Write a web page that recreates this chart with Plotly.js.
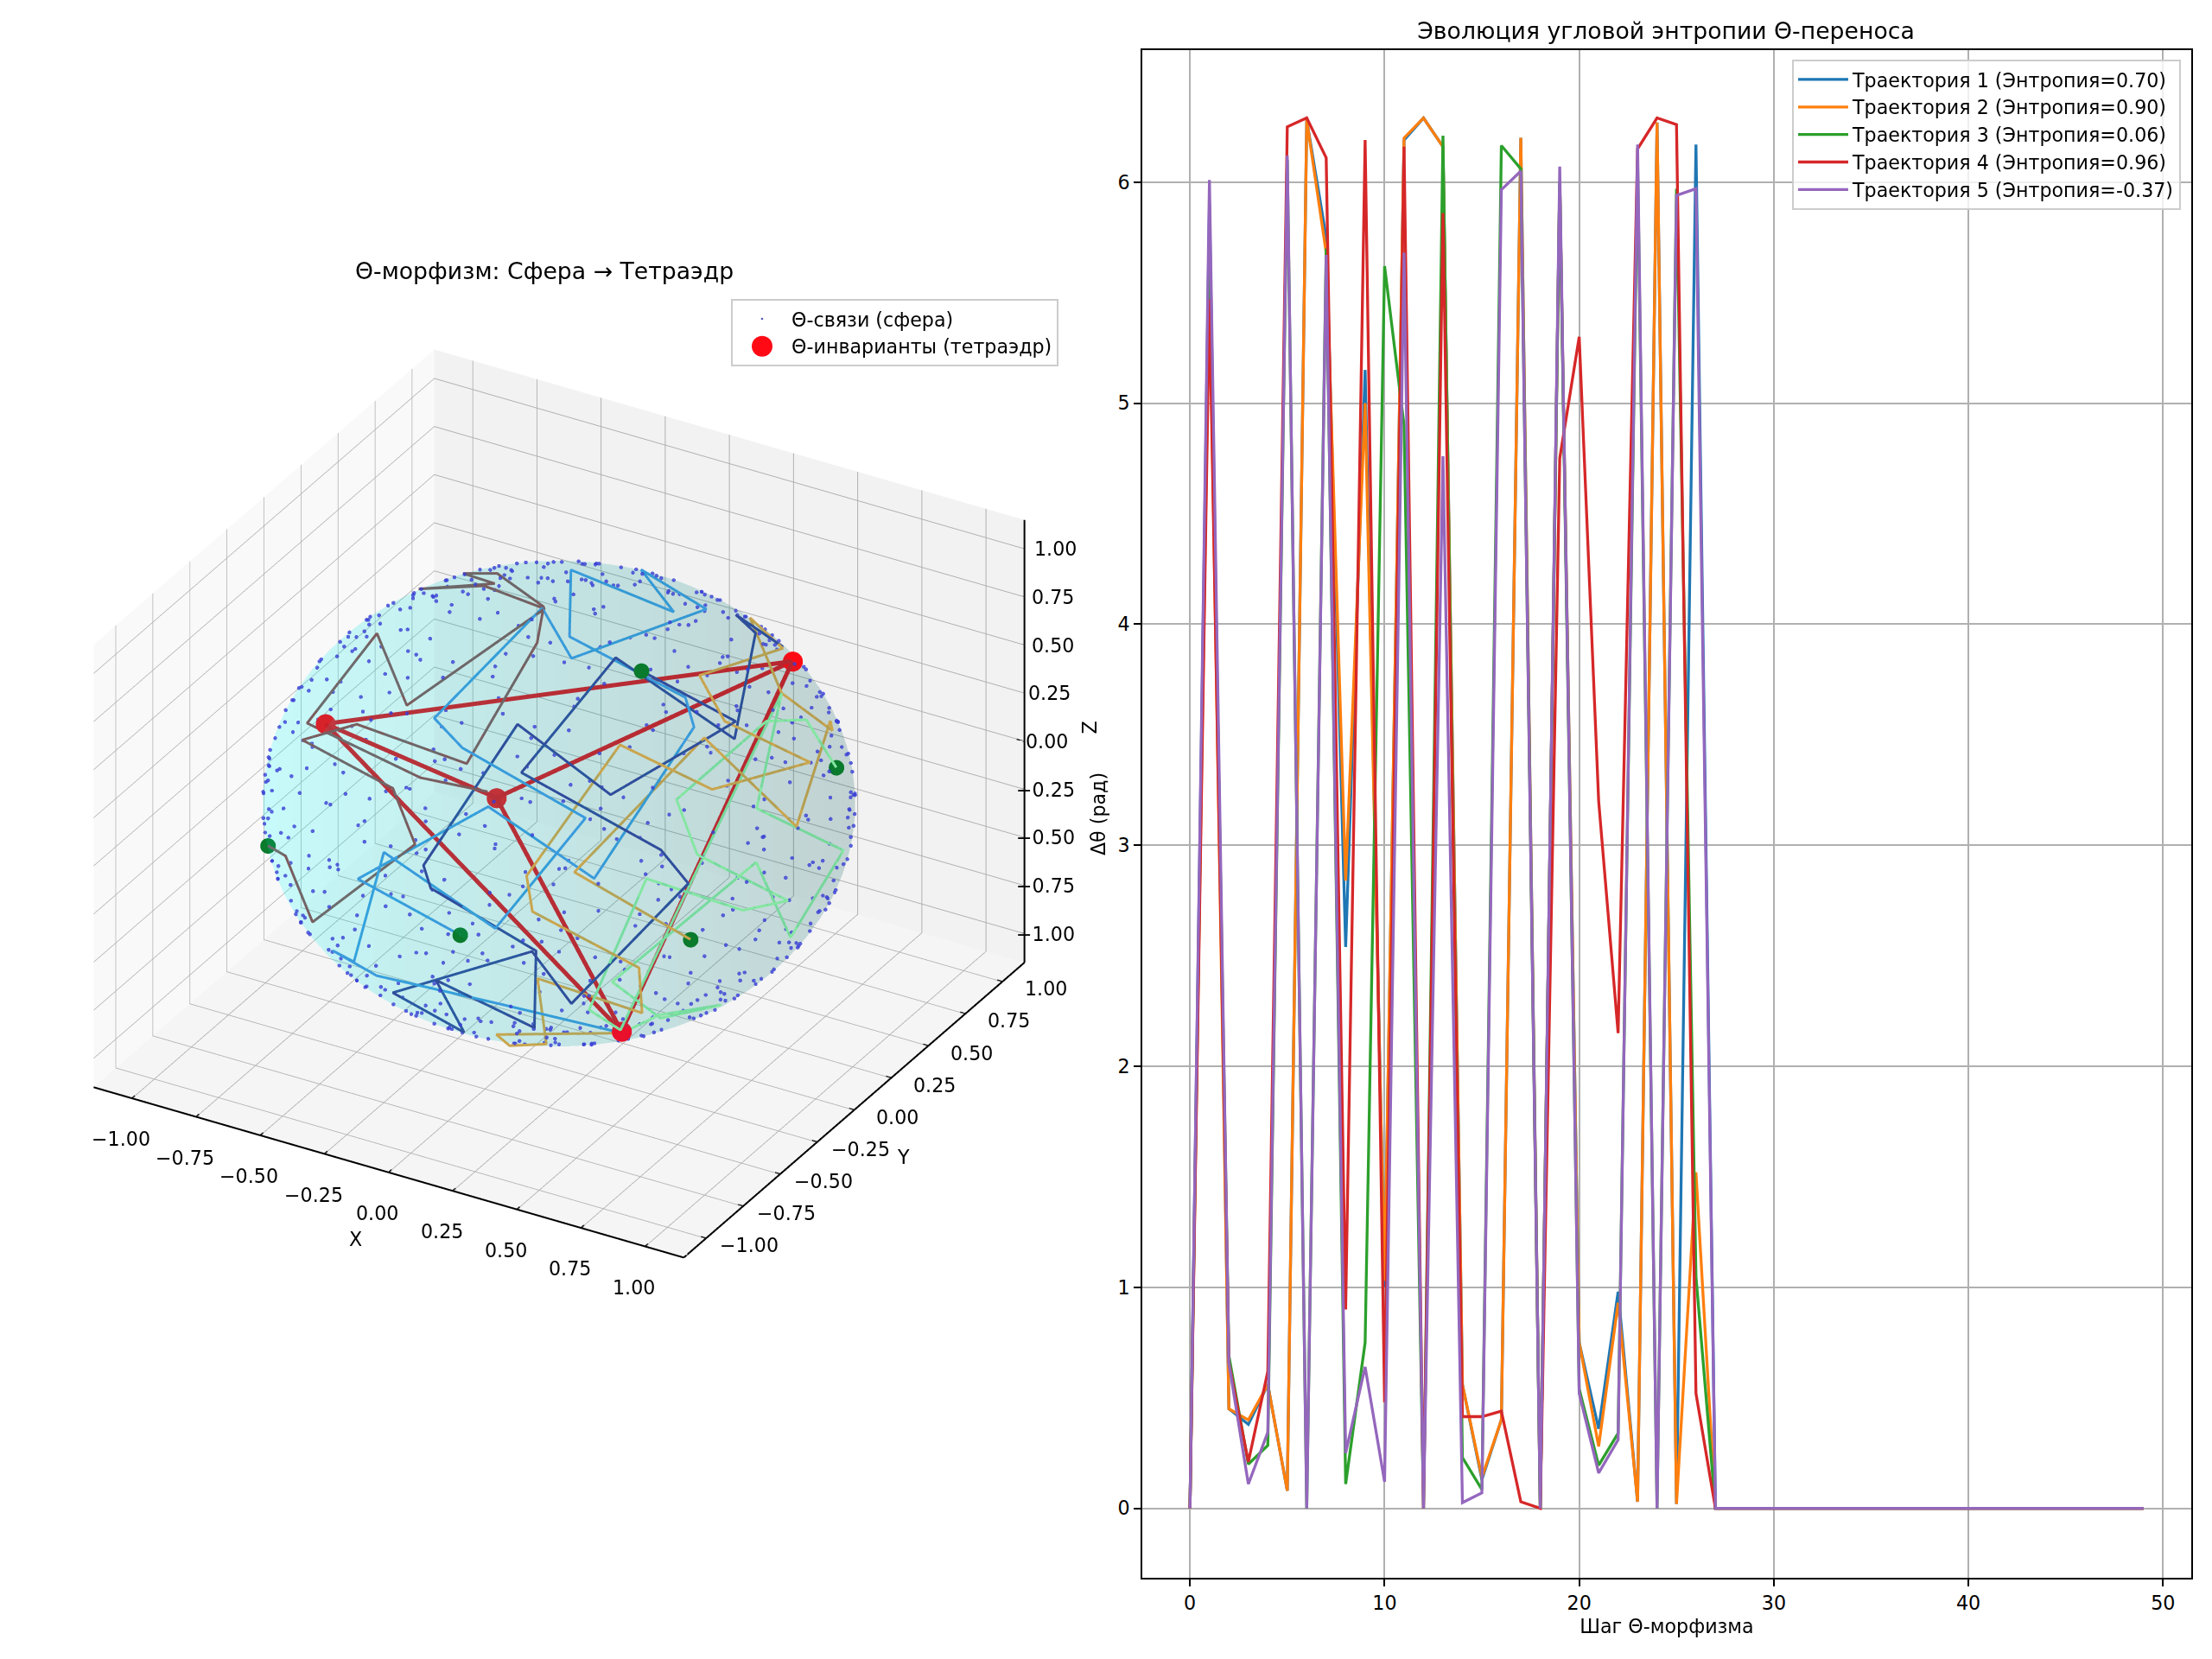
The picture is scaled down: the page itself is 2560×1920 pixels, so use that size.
<!DOCTYPE html>
<html>
<head>
<meta charset="utf-8">
<script src="https://cdn.plot.ly/plotly-3.0.1.min.js"></script>
<style>html,body{margin:0;padding:0;background:#fff}#chart{width:2560px;height:1920px}</style>
</head>
<body>
<div id="chart"></div>
<script>
// ---- right panel: angular entropy per step ----
const steps = [];
for (let i = 0; i < 50; i++) steps.push(i);
const zeros22 = [0,0,0,0,0,0,0,0,0,0,0,0,0,0,0,0,0,0,0,0,0,0];

const names = ['Траектория 1 (Энтропия=0.70)', 'Траектория 2 (Энтропия=0.90)', 'Траектория 3 (Энтропия=0.06)', 'Траектория 4 (Энтропия=0.96)', 'Траектория 5 (Энтропия=-0.37)'];
const colors = ['#1f77b4', '#ff7f0e', '#2ca02c', '#d62728', '#9467bd'];

const entropy1 = [0,5.9,0.45,0.38,0.56,0.08,6.28,5.75,2.54,5.15,1.0,6.19,6.29,6.16,0.56,0.13,0.40,6.2,0,6.0,0.75,0.36,0.98,0.03,6.27,0.02,6.17,0.0].concat(zeros22);
const entropy2 = [0,5.6,0.45,0.40,0.56,0.08,6.28,5.68,2.84,5.0,1.03,6.2,6.29,6.16,0.56,0.14,0.40,6.2,0,6.0,0.75,0.28,0.93,0.03,6.27,0.02,1.52,0.0].concat(zeros22);
const entropy3 = [0,5.7,0.69,0.20,0.285,6.1,0,5.7,0.11,0.75,5.62,4.9,0,6.21,0.23,0.085,6.165,6.06,0,6.0,0.54,0.195,0.34,6.1,0,5.97,1.05,0.0].concat(zeros22);
const entropy4 = [0,5.47,0.66,0.21,0.62,6.25,6.29,6.11,0.90,6.19,0.48,6.16,0,5.86,0.415,0.415,0.44,0.03,0,4.75,5.30,3.2,2.15,6.15,6.29,6.26,0.52,0.0].concat(zeros22);
const entropy5 = [0,6.01,0.656,0.11,0.344,6.12,0,5.67,0.25,0.64,0.12,5.68,0,4.76,0.026,0.07,5.965,6.05,0,6.07,0.52,0.16,0.31,6.17,0,5.94,5.97,0.0].concat(zeros22);
const entropies = [entropy1, entropy2, entropy3, entropy4, entropy5];

// ---- left panel: tetrahedron vertices and start points ----
const vertX = [0.577,-0.577,-0.577,0.577];
const vertY = [0.577,-0.577,0.577,-0.577];
const vertZ = [0.577,0.577,-0.577,-0.577];
const vertColors = ['#ff0a14','#d8222a','#d8222a','#e8102a'];
const edgeOrder = [0,1,2,0,3,1,3,2];

// ---- trajectories on the sphere ----
const brownX = [-0.80,-0.61,-0.47,-0.03,-0.18,-0.66,-0.43,0.05,0.03,-0.06,-0.38,-0.57,-0.32,-0.68,-0.35,-0.05,-0.27,-0.60,-0.67,-0.09,0.16];
const brownY = [-0.58,-0.79,-0.85,-0.92,-0.81,-0.59,-0.62,-0.71,-0.20,-0.00,0.24,0.34,0.12,0.23,0.10,-0.01,-0.56,-0.19,-0.54,-0.78,-0.76];
const brownZ = [-0.14,0.02,-0.23,0.39,0.55,0.47,0.66,0.70,0.98,1.00,0.89,0.75,0.94,0.70,0.93,1.00,0.78,0.78,0.52,0.62,0.63];
const blueX = [0.18,-0.23,0.18,0.57,0.63,0.55,0.11,-0.15,0.28,-0.05,0.32,0.17,-0.06,-0.14,0.01,0.49,0.30,-0.14,-0.28,-0.38,-0.18,0.29,0.57];
const blueY = [-0.98,-0.96,-0.79,-0.75,-0.18,-0.10,-0.12,0.34,0.29,0.64,0.44,-0.21,-0.01,-0.60,-0.67,-0.67,-0.95,-0.94,-0.90,-0.87,-0.92,-0.90,-0.56];
const blueZ = [0.04,0.16,0.58,0.33,0.76,0.83,0.99,0.93,0.91,0.77,0.84,0.96,1.00,0.79,0.74,0.56,0.10,0.32,-0.33,-0.33,-0.35,-0.33,-0.60];
const navyX = [0.39,0.70,0.67,0.53,0.15,0.02,0.06,0.43,0.36,0.08,0.04,-0.14,0.42,0.51,0.81,0.72,0.24,0.29,0.73,0.46,0.36,0.51];
const navyY = [-0.12,-0.02,-0.19,-0.57,-0.54,-0.95,-0.97,-0.90,-0.79,-0.97,-0.71,-0.88,-0.91,-0.80,-0.53,-0.56,-0.67,-0.12,-0.08,0.53,0.57,0.63];
const navyZ = [0.92,0.71,0.71,0.63,0.83,0.32,0.23,0.00,-0.50,-0.24,-0.70,-0.45,-0.00,-0.31,0.25,0.41,0.70,0.95,0.67,0.71,0.74,0.59];
const goldX = [0.83,0.51,0.67,0.96,0.78,0.80,0.70,0.34,0.52,0.53,0.68,0.88,0.77,0.48,0.37,0.41,0.71,0.67,0.43,0.32,0.16,0.20,0.57];
const goldY = [-0.55,-0.78,-0.18,-0.06,0.48,0.46,0.29,0.70,0.61,0.03,-0.06,0.17,-0.30,-0.42,-0.86,-0.89,-0.69,-0.60,-0.89,-0.64,-0.61,-0.77,-0.56];
const goldZ = [-0.02,0.36,0.72,0.29,0.41,0.38,0.65,0.63,0.60,0.85,0.73,0.44,0.57,0.77,0.34,0.19,-0.12,-0.43,-0.15,-0.70,-0.79,-0.61,-0.60];
const greenX = [0.89,0.79,0.75,0.70,0.81,0.99,0.93,0.71,0.55,0.58,0.70,0.88,0.97,0.96,0.93,0.64,0.69,0.77,0.70,0.57];
const greenY = [0.33,0.30,0.10,-0.42,-0.47,-0.17,-0.37,-0.64,-0.75,-0.59,0.29,-0.19,0.24,-0.10,-0.28,-0.75,-0.51,-0.24,-0.54,-0.56];
const greenZ = [0.31,0.54,0.65,0.57,0.36,-0.01,0.05,0.31,-0.36,-0.56,0.65,0.44,-0.03,-0.26,0.24,-0.18,-0.51,-0.59,-0.47,-0.60];
const trajColors = ['#7a5c5e','#3a9bdc','#2f4d9c','#c9a54e','#84e6a2'];

// ---- Θ-links: points on the sphere, degrees ----
const dotLon = [12,47,95,130,168,205,238,262,291,318,345,27,
33,71,109,152,190,221,256,283,305,331,352,8,
4,21,33,52,66,83,97,111,128,142,159,171,188,203,217,234,246,263,279,291,308,322,339,353,
9,24,41,55,72,86,103,119,133,148,162,179,193,208,224,239,251,268,284,298,313,329,343,357,
2,13,22,31,43,52,61,74,82,93,101,114,123,132,144,151,163,172,183,194,201,213,222,233,242,254,261,273,284,291,303,312,324,331,344,352,
6,17,25,38,47,56,68,77,88,97,108,118,127,138,147,158,167,178,187,198,207,218,228,237,249,257,268,278,287,297,307,318,327,338,347,357,
3,11,20,27,36,44,52,59,69,76,85,92,101,108,117,124,133,140,149,156,166,173,181,189,198,205,214,221,230,238,246,253,262,269,278,286,294,302,310,318,326,335,343,351,
7,15,23,32,40,49,56,65,72,81,89,97,105,113,121,129,137,145,153,161,170,178,186,193,202,210,218,226,234,242,250,258,266,274,282,290,298,306,314,322,331,339,347,356,
1,9,16,24,31,38,46,53,61,68,76,83,91,98,106,113,121,128,136,143,151,158,166,173,181,188,196,203,211,218,226,233,241,248,256,263,271,278,286,293,301,308,316,323,331,338,346,353,
5,12,20,27,35,42,50,57,65,72,80,87,95,102,110,117,125,132,140,147,155,162,170,177,185,192,200,207,215,222,230,237,245,252,260,267,275,282,290,297,305,312,320,327,335,342,350,357,
3,10,18,24,32,39,47,54,61,68,75,83,90,97,104,112,119,126,133,141,148,155,162,170,177,184,191,199,206,213,220,228,235,242,249,257,264,271,278,286,293,300,307,315,322,329,336,344,351,358,
17,143,268,59,201,326,88,232,5,171,294,46,119,253,338,76,186,311,28,156,277,64,219,349,102,243,135,9,296,181,
38,261,112,347,194,71,305,149,23,226,92,279,164,52,333,127,248,16,203,80,316,177,41,290,138,357,212,99,265,61,
154,299,83,222,13,340,118,247,67,189,322,35,274,146,8,208,95,357,131,283,55,171,240,20,326,106,199,74,312,160,
228,44,181,306,125,262,89,355,29,197,141,318,68,251,12,166,285,104,234,50,340,152,276,87,211,33,129,300,175,62,
122,269,7,196,337,78,158,291,43,215,101,352,238,19,134,282,57,176,320,93,255,30,147,204,72,311,110,246,2,168,
// denser ring along the visible rim
300,305,312,318,324,330,336,342,348,354,0,5,10,14,18,22,26,30,34,38,42,46,50,54,58,62,68,74,80,86,92,98,104,110,116,122,128,134,140,146,
152,158,164,170,176,180,184,188,192,196,200,204,208,212,216,220,224,228,232,236,240,246,252,258,264,270,276,282,288,294,
303,309,315,321,327,333,339,345,351,357,3,8,12,16,20,24,28,32,36,40,44,48,52,56,60,65,71,77,83,89,95,101,107,113,119,125,131,137,143,149,
155,161,167,173,178,182,186,190,194,198,202,206,210,214,218,222,226,230,234,238,243,249,255,261,267,273,279,285,291,297];
const dotLat = [72,81,75,86,70,78,84,73,79,71,76,83,
-74,-82,-71,-77,-86,-70,-79,-73,-84,-72,-76,-80,
61,56,66,58,63,55,68,60,57,65,62,54,67,59,64,56,61,69,58,53,63,66,55,60,
-58,-64,-55,-67,-61,-53,-63,-69,-57,-60,-66,-54,-62,-68,-56,-59,-65,-52,-61,-67,-58,-55,-63,-60,
47,41,50,38,45,52,43,48,37,46,40,51,44,39,49,42,47,36,53,41,45,50,38,44,48,40,51,43,37,46,42,49,39,52,44,47,
-44,-50,-38,-47,-41,-52,-36,-45,-49,-40,-43,-53,-37,-46,-42,-51,-39,-48,-44,-36,-50,-41,-47,-38,-52,-43,-45,-40,-49,-37,-46,-42,-51,-39,-44,-48,
31,26,34,23,29,35,27,32,24,30,36,25,33,28,22,31,35,26,29,33,24,27,36,30,23,32,28,34,25,31,27,22,35,29,33,26,30,24,36,28,32,25,34,27,
-29,-34,-24,-31,-27,-36,-22,-33,-28,-25,-35,-30,-23,-32,-26,-36,-29,-24,-34,-27,-31,-22,-35,-28,-33,-25,-30,-36,-23,-29,-32,-26,-34,-24,-28,-35,-31,-22,-27,-33,-25,-30,-36,-29,
16,11,20,8,14,19,10,17,13,21,9,15,18,12,7,16,20,10,14,19,8,13,17,11,21,15,9,18,12,16,20,7,14,10,19,13,17,8,15,21,11,18,9,14,20,12,16,10,
-14,-19,-9,-16,-11,-21,-13,-7,-18,-15,-10,-20,-12,-17,-8,-14,-19,-11,-16,-21,-9,-13,-18,-7,-15,-20,-10,-12,-17,-8,-19,-14,-21,-11,-16,-9,-18,-13,-20,-7,-15,-10,-17,-12,-19,-8,-14,-21,
3,-4,5,-2,1,-5,4,-1,6,-3,2,-6,0,5,-4,3,-2,6,-5,1,4,-3,-1,5,-6,2,-4,3,0,-2,6,-5,1,4,-3,-1,5,-6,2,-4,3,0,-2,6,-5,1,4,-3,-1,5,
39,-12,24,-48,7,-33,58,-5,-21,44,-62,13,-37,29,-9,-54,18,41,-27,3,-70,33,-16,52,-2,-44,22,-30,9,-58,
-8,35,-41,19,-66,47,-18,6,55,-25,30,-3,-52,11,-36,65,-14,26,-46,1,38,-23,-60,15,49,-31,8,-11,43,-75,
17,-42,4,28,-56,10,-20,50,-7,-34,23,64,-13,-29,37,2,-49,16,-72,31,-10,42,-38,6,-24,56,-17,34,-4,-63,
12,-28,46,-15,0,-53,25,36,-40,-6,60,19,-32,9,-68,27,-2,-45,40,14,-19,53,-35,5,-12,68,-26,22,-50,32,
-57,21,-11,48,-25,37,-43,1,15,-65,8,-30,44,-18,26,-5,-39,59,12,-22,-47,3,34,-9,20,-55,45,-36,-16,7,
// denser ring along the visible rim
-60,-72,-58,-70,-55,-68,-54,-66,-48,-62,-40,-52,-30,-40,-18,-28,0,-10,12,6,30,22,44,28,56,42,62,48,72,54,76,56,74,60,70,58,74,54,72,58,
68,52,66,50,60,42,56,30,44,18,32,4,12,-12,-4,-26,-12,-42,-24,-54,-38,-62,-46,-70,-52,-72,-54,-74,-56,-75,
-72,-58,-74,-56,-72,-54,-70,-50,-66,-44,-60,-34,-50,-20,-38,-8,-22,8,-2,26,14,40,26,52,38,62,44,68,50,72,52,74,56,76,58,76,54,76,56,70,
52,72,48,66,40,62,36,50,24,40,10,22,-6,10,-24,-8,-40,-22,-50,-36,-60,-44,-68,-48,-74,-52,-76,-54,-74,-58];

const tickVals = [-1,-0.75,-0.5,-0.25,0,0.25,0.5,0.75,1];
const tickText = ['\u22121.00','\u22120.75','\u22120.50','\u22120.25','0.00','0.25','0.50','0.75','1.00'];

const lim = 1.15;
const FONT = 'DejaVu Sans, sans-serif';
const rad = Math.PI / 180;

// sphere mesh
const sx = [], sy = [], sz = [], shade = [];
for (let la = -90; la <= 90; la += 4) {
    const rx = [], ry = [], rz = [], rs = [];
    for (let lo = 0; lo <= 360; lo += 4) {
        const px = Math.cos(la*rad)*Math.cos(lo*rad), py = Math.cos(la*rad)*Math.sin(lo*rad), pz = Math.sin(la*rad);
        rx.push(px); ry.push(py); rz.push(pz); rs.push(0.866*px + 0.5*py);
    }
    sx.push(rx); sy.push(ry); sz.push(rz); shade.push(rs);
}

const traces = [];
traces.push({
    type: 'surface', x: sx, y: sy, z: sz, surfacecolor: shade, cmin: -1, cmax: 1,
    colorscale: [[0,'rgb(0,255,255)'],[1,'rgb(0,80,80)']],
    showscale: false, opacity: 0.105, hoverinfo: 'skip', scene: 'scene',
    lighting: {ambient: 1, diffuse: 0, specular: 0, roughness: 1, fresnel: 0},
    contours: {x:{show:false},y:{show:false},z:{show:false}}
});

// custom axis edges + tick marks, so that they sit where they should
const ax = {x:[],y:[],z:[]};
function seg(a, b) {
    ax.x.push(a[0], b[0], null); ax.y.push(a[1], b[1], null); ax.z.push(a[2], b[2], null);
}
seg([-lim,-lim,-lim],[lim,-lim,-lim]);
seg([lim,-lim,-lim],[lim,lim,-lim]);
seg([lim,lim,-lim],[lim,lim,lim]);
tickVals.forEach(t => {
    seg([t,-lim+0.02,-lim],[t,-lim-0.05,-lim]);
    seg([lim-0.02,t,-lim],[lim+0.05,t,-lim]);
    seg([lim-0.03,lim,t],[lim+0.05,lim,t]);
});
traces.push({type:'scatter3d', mode:'lines', x:ax.x, y:ax.y, z:ax.z, line:{color:'#000000',width:4}, showlegend:false, hoverinfo:'skip', scene:'scene'});

// trajectories
[[brownX,brownY,brownZ],[blueX,blueY,blueZ],[navyX,navyY,navyZ],[goldX,goldY,goldZ],[greenX,greenY,greenZ]].forEach((t,i) => {
    traces.push({type:'scatter3d', mode:'lines', x:t[0], y:t[1], z:t[2], line:{color:trajColors[i],width:6}, showlegend:false, hoverinfo:'skip', scene:'scene'});
});

// start points (first point of every trajectory)
traces.push({type:'scatter3d', mode:'markers',
    x:[brownX[0],blueX[0],navyX[0],goldX[0],greenX[0]],
    y:[brownY[0],blueY[0],navyY[0],goldY[0],greenY[0]],
    z:[brownZ[0],blueZ[0],navyZ[0],goldZ[0],greenZ[0]],
    marker:{size:10.5,color:'#0a7a2c'}, showlegend:false, hoverinfo:'skip', scene:'scene'});

// tetrahedron edges
traces.push({type:'scatter3d', mode:'lines',
    x:edgeOrder.map(i=>vertX[i]), y:edgeOrder.map(i=>vertY[i]), z:edgeOrder.map(i=>vertZ[i]),
    line:{color:'#cc1f28',width:10}, showlegend:false, hoverinfo:'skip', scene:'scene'});

traces.push({type:'scatter3d', mode:'markers', name:'Θ-связи (сфера)', legend:'legend2',
    x:dotLon.map((lo,i)=>Math.cos(dotLat[i]*rad)*Math.cos(lo*rad)),
    y:dotLon.map((lo,i)=>Math.cos(dotLat[i]*rad)*Math.sin(lo*rad)),
    z:dotLat.map(la=>Math.sin(la*rad)),
    marker:{size:2.6,color:'rgba(45,50,170,0.8)'}, hoverinfo:'skip', scene:'scene'});

traces.push({type:'scatter3d', mode:'markers', name:'Θ-инварианты (тетраэдр)', legend:'legend2',
    x:vertX, y:vertY, z:vertZ, marker:{size:13.5,color:vertColors}, hoverinfo:'skip', scene:'scene'});

// right panel lines
entropies.forEach((e,i) => {
    traces.push({type:'scatter', mode:'lines', x:steps, y:e, name:names[i], line:{color:colors[i],width:3.3}, xaxis:'x', yaxis:'y', legend:'legend'});
});

// 3D axis
function axis3d() {
    return {
        range:[-lim,lim], autorange:false, tickvals:tickVals, showticklabels:false, title:{text:''},
        showgrid:true, gridcolor:'#b0b0b0', gridwidth:2, showline:false, zeroline:false, showspikes:false, ticks:'',
        showbackground:true
    };
}
const xa = axis3d(); xa.backgroundcolor = '#f9f9f9';
const ya = axis3d(); ya.backgroundcolor = '#f2f2f2';
const za = axis3d(); za.backgroundcolor = '#f5f5f5';

// tick labels as text annotations
const notes3d = [];
const tf = {family:FONT,size:22.2,color:'#000000'};
const zShift = [24,24,24,24,26,29,33,33,36];
tickVals.forEach((t,i) => {
    notes3d.push({x:t,y:-lim,z:-lim,text:tickText[i],showarrow:false,font:tf,xshift:-13,yshift:-47});
    notes3d.push({x:lim,y:t,z:-lim,text:tickText[i],showarrow:false,font:tf,xshift:50,yshift:-8});
    notes3d.push({x:lim,y:lim,z:t,text:tickText[i],showarrow:false,font:tf,xshift:zShift[i],yshift:0});
});
notes3d.push({x:0,y:-lim,z:-lim,text:'X',showarrow:false,font:tf,xshift:-38,yshift:-77});
notes3d.push({x:lim,y:0,z:-lim,text:'Y',showarrow:false,font:tf,xshift:57,yshift:-54});
notes3d.push({x:lim,y:lim,z:0,text:'Z',showarrow:false,font:tf,xshift:75,yshift:16,textangle:-90});

const eye = 3.07;
const layout = {
    width: 2560, height: 1920,
    paper_bgcolor: '#ffffff', plot_bgcolor: '#ffffff',
    font: {family:FONT, size:22.2, color:'#000000'},
    margin: {l:0,r:0,t:0,b:0},
    title: {text:'Эволюция угловой энтропии Θ-переноса', font:{family:FONT,size:26.7,color:'#000000'}, x:1928/2560, xanchor:'center', y:1-36/1920, yanchor:'middle'},
    annotations: [{xref:'paper',yref:'paper',x:630/2560,y:1-313/1920,xanchor:'center',yanchor:'middle',text:'Θ-морфизм: Сфера → Тетраэдр',showarrow:false,font:{family:FONT,size:26.7,color:'#000000'}}],
    scene: {
        domain:{x:[0,0.5055],y:[0.0312,1]},
        xaxis:xa, yaxis:ya, zaxis:za,
        aspectmode:'manual', aspectratio:{x:0.848,y:0.848,z:0.636},
        camera:{eye:{x:0.433*eye,y:-0.75*eye,z:0.5*eye},center:{x:0,y:0,z:0},up:{x:0,y:0,z:1},projection:{type:'orthographic'}},
        annotations:notes3d
    },
    xaxis: {
        domain:[1322/2560,2536/2560], range:[-2.45,51.45], tickvals:[0,10,20,30,40,50], ticks:'outside', ticklen:8, tickwidth:2, tickcolor:'#000',
        showline:true, mirror:true, linecolor:'#000', linewidth:2, showgrid:true, gridcolor:'#b0b0b0', gridwidth:2, zeroline:false,
        tickfont:{family:FONT,size:22.2,color:'#000'}, title:{text:'Шаг Θ-морфизма',font:{family:FONT,size:22.2,color:'#000'},standoff:8}, anchor:'y'
    },
    yaxis: {
        domain:[1-1826/1920,1-58/1920], range:[-0.314,6.597], tickvals:[0,1,2,3,4,5,6], ticks:'outside', ticklen:8, tickwidth:2, tickcolor:'#000',
        showline:true, mirror:true, linecolor:'#000', linewidth:2, showgrid:true, gridcolor:'#b0b0b0', gridwidth:2, zeroline:false,
        tickfont:{family:FONT,size:22.2,color:'#000'}, title:{text:'Δθ (рад)',font:{family:FONT,size:22.2,color:'#000'},standoff:8}, anchor:'x'
    },
    legend: {x:2074/2560,y:1-69/1920,xanchor:'left',yanchor:'top',bgcolor:'rgba(255,255,255,0.8)',bordercolor:'#cccccc',borderwidth:2,font:{family:FONT,size:22.2,color:'#000'},itemwidth:58},
    legend2: {x:846/2560,y:1-346/1920,xanchor:'left',yanchor:'top',bgcolor:'rgba(255,255,255,0.8)',bordercolor:'#cccccc',borderwidth:2,font:{family:FONT,size:22.2,color:'#000'},itemsizing:'trace',itemwidth:58},
    showlegend: true
};

Plotly.newPlot('chart', traces, layout, {displayModeBar:false, responsive:false}).then(() => {
    // legend keeps marker size capped at 16 px, the red one is larger in the figure
    const pts = document.querySelectorAll('.legend2 .traces .legendpoints path');
    if (pts.length > 1) pts[pts.length-1].setAttribute('d', 'M12,0A12,12 0 1,1 0,-12A12,12 0 0,1 12,0Z');
});
</script>
</body>
</html>
